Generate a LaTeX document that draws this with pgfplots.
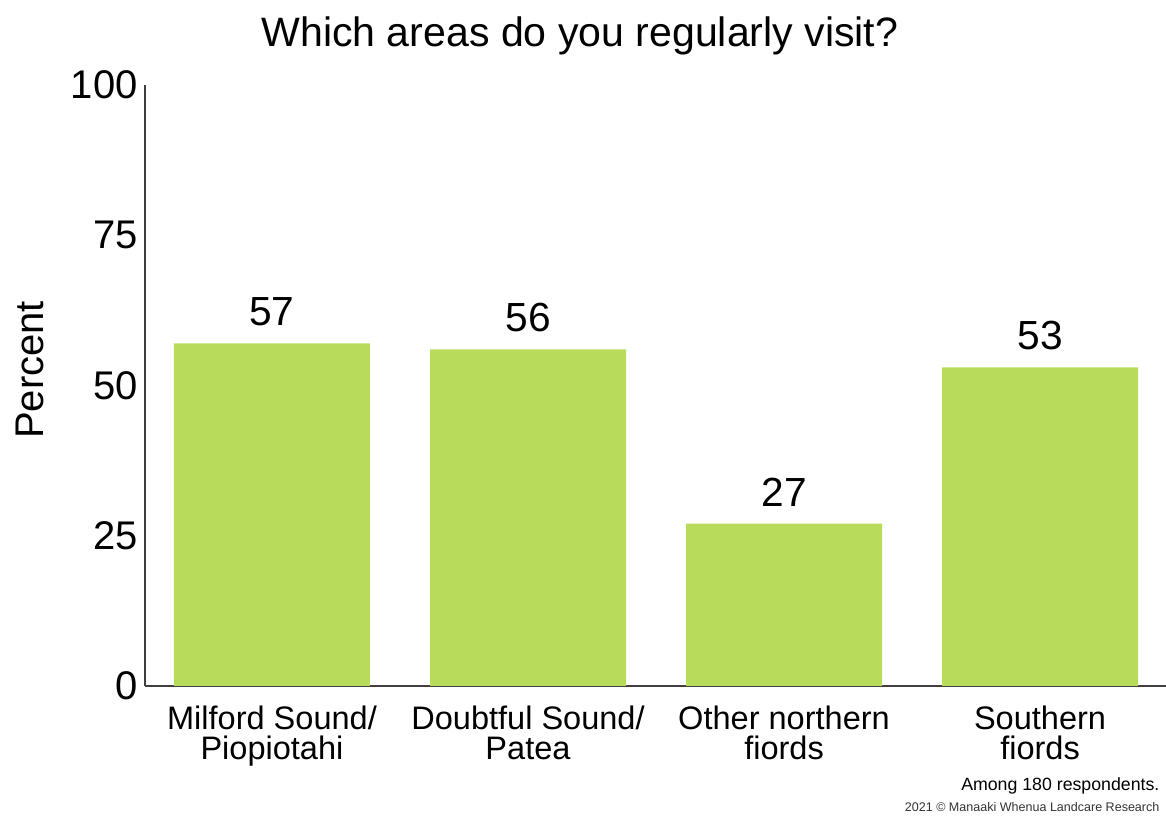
\documentclass[border=0pt]{standalone}
\usepackage{pgfplots}
\pgfplotsset{compat=1.18}
\usepackage{fontspec}
\setmainfont{Liberation Sans}
\definecolor{bargreen}{HTML}{B8DC5A}
\definecolor{axgrey}{HTML}{404040}
\begin{document}
\begin{tikzpicture}
\useasboundingbox (-108.75pt,-97.5pt) rectangle (765.75pt,514.5pt);
\begin{axis}[
  at={(0,0)}, anchor=south west,
  scale only axis,
  width=765.75pt, height=450.75pt,
  xmin=-0.496, xmax=3.492,
  ymin=0, ymax=100,
  axis x line*=bottom, axis y line*=left,
  axis line style={axgrey, line width=1.3pt, -},
  major tick length=0pt,
  ytick={0,25,50,75,100},
  xtick={0,1,2,3},
  xticklabels={Milford Sound/\\Piopiotahi, Doubtful Sound/\\Patea, Other northern\\fiords, Southern\\fiords},
  xticklabel style={align=center, font=\fontsize{24.4}{22.5}\selectfont, yshift=-11.5pt},
  yticklabel style={font=\fontsize{30}{30}\selectfont, xshift=-2pt},
  /pgf/number format/assume math mode=true,
  ylabel={Percent},
  ylabel style={at={(axis description cs:-0.1126,0.526)}, anchor=center, font=\fontsize{30}{30}\selectfont},
  title={Which areas do you regularly visit?},
  title style={at={(axis description cs:0.426,1.068)}, anchor=center, font=\fontsize{30.8}{30.8}\selectfont},
  ybar, bar width=147pt,
  nodes near coords,
  nodes near coords style={font=\fontsize{30.5}{30.5}\selectfont, inner sep=0pt, yshift=12.75pt, black},
  clip=false,
]
\addplot[fill=bargreen, draw=none] coordinates {(0,57) (1,56) (2,27) (3,53)};
\end{axis}
\node[anchor=east, inner sep=0pt, font=\fontsize{13.3}{13.3}\selectfont] at (761pt,-75pt) {Among 180 respondents.};
\node[anchor=east, inner sep=0pt, font=\fontsize{9.4}{9.4}\selectfont, text=black!80] at (761pt,-90.75pt) {2021 © Manaaki Whenua Landcare Research};
\end{tikzpicture}
\end{document}
